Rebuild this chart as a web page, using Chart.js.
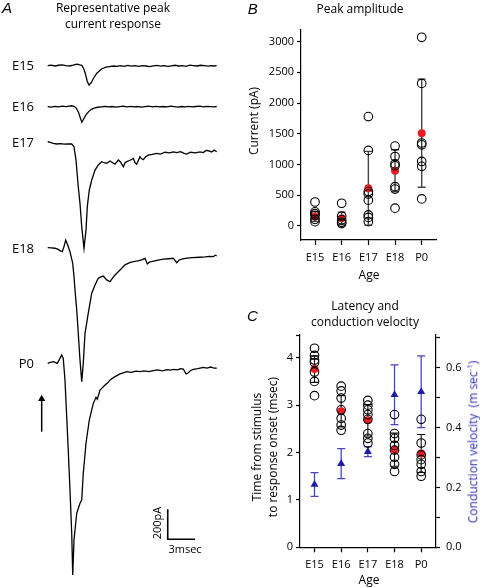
<!DOCTYPE html>
<html>
<head>
<meta charset="utf-8">
<script src="https://cdn.jsdelivr.net/npm/chart.js@4.4.1/dist/chart.umd.min.js"></script>
<style>
  body { margin: 0; background: #fff; }
  #fig { position: relative; width: 480px; height: 588px; overflow: hidden; font-family: "Open Sans", sans-serif; color: #000; }
  canvas { position: absolute; }
  .t { position: absolute; white-space: nowrap; font-size: 12px; line-height: 15.5px; text-align: center; transform: translate(-50%, -50%); }
  .r { transform: translate(-100%, -50%); font-size: 13px; }
  .v { transform: translate(-50%, -50%) rotate(-90deg); }
  .p { font-family: "Liberation Sans", sans-serif; font-style: italic; font-size: 15px; }
  .s { font-size: 11px; }
  .blue { color: #2e2eb0; }
</style>
</head>
<body>
<div id="fig">
  <canvas id="chartA" width="240" height="588" style="left:0;top:0"></canvas>
  <canvas id="chartB" width="240" height="290" style="left:240px;top:0"></canvas>
  <canvas id="chartC" width="240" height="298" style="left:240px;top:290px"></canvas>

  <div class="t p" style="left:7px;top:8px">A</div>
  <div class="t" style="left:113px;top:15px">Representative peak<br>current response</div>
  <div class="t r" style="left:34px;top:65.5px">E15</div>
  <div class="t r" style="left:34px;top:106.7px">E16</div>
  <div class="t r" style="left:34px;top:142.5px">E17</div>
  <div class="t r" style="left:34px;top:249px">E18</div>
  <div class="t r" style="left:34px;top:363.5px">P0</div>
  <div class="t v s" style="left:156.7px;top:523.3px">200pA</div>
  <div class="t s" style="left:185px;top:549.3px">3msec</div>

  <div class="t p" style="left:252.8px;top:9px">B</div>
  <div class="t" style="left:360px;top:9.3px">Peak amplitude</div>
  <div class="t v" style="left:254px;top:121px">Current (pA)</div>
  <div class="t" style="left:369px;top:275px">Age</div>

  <div class="t p" style="left:252.5px;top:316px">C</div>
  <div class="t" style="left:365px;top:313px">Latency and<br>conduction velocity</div>
  <div class="t v" style="left:263.6px;top:447px">Time from stimulus<br>to response onset (msec)</div>
  <div class="t v blue" style="left:471px;top:442px">Conduction velocity&nbsp; (m sec<sup style="font-size:8px">-1</sup>)</div>
  <div class="t" style="left:369px;top:579.8px">Age</div>
</div>

<script>
// Panel A: example traces, [msec, pA] from each trace's own baseline
const traceE15 = [[0,0],[0.4,4],[0.8,-2],[1.2,3],[1.6,6],[2.0,1],[2.4,-2],[2.8,4],[3.1,9],[3.3,11],[3.5,6],[3.75,2],[3.95,-18],[4.15,-55],[4.35,-105],[4.55,-129],[4.8,-112],[5.05,-82],[5.4,-50],[5.9,-22],[6.4,-10],[6.8,-6],[7.2,-2],[7.6,-5],[8.0,0],[8.4,-4],[8.8,2],[9.2,-3],[9.6,0],[10.0,-4],[10.4,1],[10.8,-2],[11.2,-6],[11.6,-1],[12.0,2],[12.4,-3],[12.8,0],[13.2,-5],[13.6,-1],[14.0,3],[14.4,-2],[14.8,0],[15.2,-4],[15.6,4],[16.0,1],[16.4,-2],[16.8,3],[17.2,0],[17.6,-3],[18.0,1],[18.3,-2],[18.57,0]];
const traceE16 = [[0,0],[0.4,-3],[0.8,2],[1.2,-1],[1.6,3],[2.0,0],[2.3,3],[2.6,6],[2.9,2],[3.15,-10],[3.4,-40],[3.6,-78],[3.75,-104],[3.95,-82],[4.2,-55],[4.5,-33],[4.8,-18],[5.1,-10],[5.5,-4],[5.9,-1],[6.3,2],[6.7,-2],[7.1,1],[7.5,-3],[7.9,0],[8.3,3],[8.7,-1],[9.1,2],[9.5,-2],[9.9,1],[10.3,-3],[10.7,0],[11.1,3],[11.5,-1],[11.9,2],[12.3,-2],[12.7,1],[13.1,-1],[13.5,3],[13.9,0],[14.3,-3],[14.7,1],[15.1,-1],[15.5,2],[15.9,-2],[16.3,1],[16.7,3],[17.1,-1],[17.5,2],[17.9,0],[18.3,-2],[18.57,1]];
const traceE17 = [[0,0],[0.3,-4],[0.62,-11],[1.0,-15],[1.4,-13],[1.8,-16],[2.2,-14],[2.64,-15],[2.89,-33],[3.11,-122],[3.36,-300],[3.55,-411],[3.74,-567],[3.99,-711],[4.21,-589],[4.35,-433],[4.57,-322],[4.84,-255],[5.2,-189],[5.56,-155],[5.93,-133],[6.2,-140],[6.48,-144],[6.85,-128],[7.1,-138],[7.4,-150],[7.76,-122],[8.0,-135],[8.31,-167],[8.5,-140],[8.68,-133],[9.0,-125],[9.41,-111],[9.6,-140],[9.78,-150],[10.14,-100],[10.3,-112],[10.51,-120],[10.8,-98],[11.05,-89],[11.5,-84],[11.98,-77],[12.4,-82],[12.9,-70],[13.4,-74],[13.8,-67],[14.2,-73],[14.6,-66],[15.0,-78],[15.27,-82],[15.7,-70],[16.2,-74],[16.74,-67],[17.1,-72],[17.4,-58],[17.65,-60],[18.0,-68],[18.3,-56],[18.57,-67]];
const traceE18 = [[0,0],[0.4,-2],[0.8,-4],[1.1,-10],[1.35,-20],[1.6,-27],[1.79,7],[1.98,51],[2.2,18],[2.45,-27],[2.75,-104],[2.89,-193],[3.03,-304],[3.19,-415],[3.36,-571],[3.55,-749],[3.74,-893],[3.91,-771],[4.1,-571],[4.46,-437],[4.84,-304],[5.2,-249],[5.56,-204],[5.85,-195],[6.11,-189],[6.48,-215],[6.85,-227],[7.1,-205],[7.4,-182],[7.95,-149],[8.5,-115],[9.0,-100],[9.41,-93],[9.9,-88],[10.33,-82],[10.69,-71],[10.95,-109],[11.2,-95],[11.43,-93],[12.0,-85],[12.7,-77],[13.3,-74],[13.8,-71],[14.18,-100],[14.4,-84],[14.73,-77],[15.3,-70],[15.9,-66],[16.74,-64],[17.3,-62],[17.8,-58],[18.2,-60],[18.4,-50],[18.57,-55]];
const traceP0 = [[0,0],[0.3,6],[0.62,11],[1.05,0],[1.35,33],[1.54,55],[1.71,33],[1.9,-111],[2.09,-356],[2.26,-578],[2.45,-845],[2.64,-1133],[2.75,-1411],[2.89,-1178],[3.19,-1000],[3.55,-933],[3.74,-911],[3.91,-733],[4.21,-533],[4.57,-378],[5.01,-267],[5.31,-227],[5.45,-240],[5.75,-178],[6.3,-145],[6.6,-130],[6.85,-111],[7.4,-89],[7.95,-71],[8.3,-64],[8.68,-56],[9.2,-60],[9.7,-52],[10.14,-56],[10.6,-50],[11.1,-55],[11.6,-49],[12.1,-44],[12.6,-50],[13.1,-42],[13.5,-46],[13.8,-40],[14.3,-44],[14.6,-36],[14.9,-38],[15.2,-71],[15.45,-63],[15.7,-48],[16.0,-40],[16.5,-35],[17.1,-27],[17.5,-32],[17.9,-25],[18.2,-30],[18.57,-33]];
const scaleBarMs = 3;
const scaleBarPa = 200;

// Panel B: peak amplitude (pA) per age
const ages = ["E15", "E16", "E17", "E18", "P0"];
const peakE15 = [390, 230, 200, 170, 110, 70];
const peakE16 = [370, 160, 100, 60, 40];
const peakE17 = [1780, 1230, 560, 520, 420, 180, 140, 70];
const peakE18 = [1300, 1130, 1010, 980, 640, 600, 290];
const peakP0 = [3070, 2320, 1350, 1320, 1050, 970, 440];
const peakMean = [155, 125, 614, 900, 1510];
const peakSd = [80, 100, 600, 340, 880];
const peakTicks = [0, 500, 1000, 1500, 2000, 2500, 3000];

// Panel C: latency (msec) and conduction velocity (m/sec)
const latencyE15 = [4.2, 4.05, 3.95, 3.9, 3.7, 3.5, 3.2];
const latencyE16 = [3.4, 3.3, 3.15, 2.9, 2.72, 2.58, 2.47];
const latencyE17 = [3.1, 3.0, 2.9, 2.8, 2.7, 2.4, 2.3, 2.2];
const latencyE18 = [2.8, 2.4, 2.3, 2.15, 2.05, 1.9, 1.75, 1.6];
const latencyP0 = [2.7, 2.2, 1.95, 1.85, 1.75, 1.6, 1.5];
const latencyMean = [3.76, 2.87, 2.68, 2.06, 1.98];
const latencySd = [0.28, 0.33, 0.33, 0.35, 0.4];
const velocityMean = [0.21, 0.28, 0.32, 0.51, 0.52];
const velocitySd = [0.04, 0.05, 0.017, 0.10, 0.12];
const latencyTicks = [0, 1, 2, 3, 4];
const velocityTicks = [0, 0.1, 0.2, 0.3, 0.4, 0.5, 0.6, 0.7];

Chart.defaults.font.family = "'Open Sans', sans-serif";
Chart.defaults.font.size = 11;
Chart.defaults.color = "#000";
Chart.defaults.animation = false;
Chart.defaults.plugins.legend.display = false;
Chart.defaults.plugins.tooltip.enabled = false;

const RED = "rgb(237, 28, 36)";
const BLUE = "#1e1ea8";
const BLUE_BAR = "#4646c4";

// ---------- Panel A ----------
const traceList = [traceE15, traceE16, traceE17, traceE18, traceP0];
const traceBaseline = [-438, -711, -945, -1651, -2422];
const barCorner = { x: 13.19, y: -3595 };
const arrowX = -0.66;

const traceSets = traceList.map((tr, i) => ({
    data: tr.map(p => ({ x: p[0], y: p[1] + traceBaseline[i] })),
    borderColor: "#000",
    borderWidth: 1.3,
    pointRadius: 0,
    tension: 0
}));

// scale bar 200 pA / 3 msec
traceSets.push({
    data: [
        { x: barCorner.x, y: barCorner.y + scaleBarPa },
        { x: barCorner.x, y: barCorner.y },
        { x: barCorner.x + scaleBarMs, y: barCorner.y }
    ],
    borderColor: "#000",
    borderWidth: 1.6,
    pointRadius: 0
});

// stimulus arrow
traceSets.push({
    data: [{ x: arrowX, y: -2878 }, { x: arrowX, y: -2660 }],
    borderColor: "#000",
    borderWidth: 1.5,
    pointRadius: [0, 4.2],
    pointStyle: "triangle",
    pointBackgroundColor: "#000",
    pointBorderWidth: 0
});

new Chart(document.getElementById("chartA"), {
    type: "line",
    data: { datasets: traceSets },
    options: {
        responsive: false,
        layout: { padding: 0, autoPadding: false },
        scales: {
            x: { type: "linear", min: -5.24, max: 21.13, display: false },
            y: { min: -3920, max: 0, display: false }
        }
    }
});

// ---------- helpers ----------
function errorBars(id, yId, means, sds, color, width) {
    return {
        id: id,
        beforeDatasetsDraw(chart) {
            const ctx = chart.ctx;
            const xs = chart.scales.x;
            const ys = chart.scales[yId];
            ctx.save();
            ctx.strokeStyle = color;
            ctx.lineWidth = width;
            means.forEach((m, i) => {
                const x = xs.getPixelForValue(i + 1);
                const top = ys.getPixelForValue(m + sds[i]);
                const bot = ys.getPixelForValue(m - sds[i]);
                ctx.beginPath();
                ctx.moveTo(x, top); ctx.lineTo(x, bot);
                ctx.moveTo(x - 4, top); ctx.lineTo(x + 4, top);
                ctx.moveTo(x - 4, bot); ctx.lineTo(x + 4, bot);
                ctx.stroke();
            });
            ctx.restore();
        }
    };
}

function spread(groups) {
    let pts = [];
    groups.forEach((g, i) => g.forEach(v => pts.push({ x: i + 1, y: v })));
    return pts;
}

function ageAxis(min, max, height) {
    return {
        type: "linear",
        min: min,
        max: max,
        border: { color: "#000", width: 1.2 },
        grid: { drawOnChartArea: false, tickColor: "#000", tickLength: 5, tickWidth: 1.2 },
        ticks: { padding: 6, callback: v => ages[v - 1] },
        afterBuildTicks: s => { s.ticks = ages.map((a, i) => ({ value: i + 1 })); },
        afterFit: s => { s.height = height; }
    };
}

const openCircles = {
    pointRadius: 4.3,
    pointBorderWidth: 1.1,
    pointBorderColor: "#000",
    pointBackgroundColor: "rgba(0,0,0,0)"
};

const redDots = {
    pointRadius: 4,
    pointBorderWidth: 0,
    pointBackgroundColor: RED
};

// ---------- Panel B ----------
new Chart(document.getElementById("chartB"), {
    type: "scatter",
    data: {
        datasets: [
            Object.assign({ data: spread([peakE15, peakE16, peakE17, peakE18, peakP0]) }, openCircles),
            Object.assign({ data: peakMean.map((m, i) => ({ x: i + 1, y: m })) }, redDots)
        ]
    },
    options: {
        responsive: false,
        layout: { padding: { top: 29.3, right: 43.5, left: 0, bottom: 0 }, autoPadding: false },
        scales: {
            x: ageAxis(0.475, 5.555, 50),
            y: {
                min: -228,
                max: 3200,
                border: { color: "#000", width: 1.2 },
                grid: { drawOnChartArea: false, tickColor: "#000", tickLength: 4, tickWidth: 1.2 },
                ticks: { padding: 3, callback: v => String(v) },
                afterBuildTicks: s => { s.ticks = peakTicks.map(v => ({ value: v })); },
                afterFit: s => { s.width = 61; }
            }
        }
    },
    plugins: [errorBars("peakBars", "y", peakMean, peakSd, "#444", 1.4)]
});

// ---------- Panel C ----------
const latencyMax = 4.48;

new Chart(document.getElementById("chartC"), {
    type: "scatter",
    data: {
        datasets: [
            Object.assign({ data: spread([latencyE15, latencyE16, latencyE17, latencyE18, latencyP0]), yAxisID: "y" }, openCircles),
            Object.assign({ data: latencyMean.map((m, i) => ({ x: i + 1, y: m })), yAxisID: "y" }, redDots),
            {
                data: velocityMean.map((m, i) => ({ x: i + 1, y: m })),
                yAxisID: "y1",
                pointStyle: "triangle",
                pointRadius: 4.6,
                pointBorderWidth: 0,
                pointBackgroundColor: BLUE
            }
        ]
    },
    options: {
        responsive: false,
        layout: { padding: { top: 45, right: 0, left: 0, bottom: 0 }, autoPadding: false },
        scales: {
            x: ageAxis(0.456, 5.555, 40.7),
            y: {
                position: "left",
                min: 0,
                max: latencyMax,
                border: { color: "#000", width: 1.2 },
                grid: { drawOnChartArea: false, tickColor: "#000", tickLength: 4, tickWidth: 1.2 },
                ticks: { padding: 3, callback: v => (v === latencyMax ? "" : String(v)) },
                afterBuildTicks: s => {
                    s.ticks = latencyTicks.concat([latencyMax]).map(v => ({ value: v }));
                },
                afterFit: s => { s.width = 60; }
            },
            y1: {
                position: "right",
                min: 0,
                max: 0.71,
                border: { color: "#000", width: 1.2 },
                grid: { drawOnChartArea: false, tickColor: "#000", tickLength: 4, tickWidth: 1.2 },
                ticks: { padding: 6, callback: (v, i) => (i % 2 === 0 ? v.toFixed(1) : "") },
                afterBuildTicks: s => { s.ticks = velocityTicks.map(v => ({ value: v })); },
                afterFit: s => { s.width = 44; }
            }
        }
    },
    plugins: [
        errorBars("latencyBars", "y", latencyMean, latencySd, "#111", 1.1),
        errorBars("velocityBars", "y1", velocityMean, velocitySd, BLUE_BAR, 1.3)
    ]
});
</script>
</body>
</html>
